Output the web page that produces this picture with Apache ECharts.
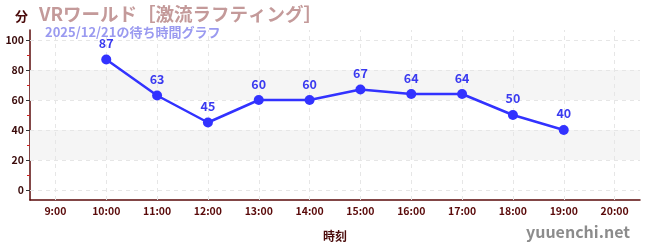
<!DOCTYPE html>
<html><head><meta charset="utf-8">
<script src="https://cdn.jsdelivr.net/npm/echarts@6/dist/echarts.min.js"></script>
<style>html,body{margin:0;padding:0;background:#fff}#c{width:650px;height:250px}</style>
</head><body><div id="c"></div>
<script>
const categories = ['9:00','10:00','11:00','12:00','13:00','14:00','15:00','16:00','17:00','18:00','19:00','20:00'];
const waitTimes = [null,87,63,45,60,60,67,64,64,50,40,null];
const yMajorTicks = [0,20,40,60,80,100];
const yMinorTicks = [10,30,50,70,90];
const grayBands = [[20,40],[60,80]];
const titleText = 'VRワールド［激流ラフティング］';
const subtitleText = '2025/12/21の待ち時間グラフ';

const axisColor = '#5a0a0a';
const font = '"Noto Sans CJK JP","Noto Sans",sans-serif';
const chart = echarts.init(document.getElementById('c'));
chart.setOption({
  animation:false,
  textStyle:{fontFamily:font},
  grid:{left:30,right:10,top:30,bottom:50},
  title:[
    {text:titleText,left:34,top:0,textStyle:{color:'#c49a9a',fontSize:18.5,fontWeight:'bold',fontFamily:font}},
    {text:subtitleText,left:40,top:21,textStyle:{color:'#9a9af0',fontSize:13,fontWeight:'bold',fontFamily:font}},
    {text:'分',left:10,top:5,textStyle:{color:'#4a0a0a',fontSize:13,fontWeight:'bold',fontFamily:font}},
    {text:'yuuenchi.net',right:15,bottom:5,textStyle:{color:'#8c8c8c',fontSize:16,fontWeight:'bold',fontFamily:font}}
  ],
  xAxis:{
    type:'category',data:categories,boundaryGap:true,
    name:'時刻',nameLocation:'middle',nameGap:30,
    nameTextStyle:{color:'#4a0a0a',fontSize:12,fontWeight:'bold'},
    axisLine:{onZero:false,lineStyle:{color:axisColor,width:1.5}},
    axisTick:{alignWithLabel:true,length:4,lineStyle:{color:'#888'}},
    axisLabel:{color:'#5a0a0a',fontSize:10.5,fontWeight:'bold',margin:6},
    splitLine:{show:false}
  },
  yAxis:[{
    type:'value',min:-6.67,max:106.67,
    axisLine:{show:true,lineStyle:{color:axisColor,width:1.5}},
    axisTick:{show:true,customValues:yMajorTicks,length:4,lineStyle:{color:'#333'}},
    axisLabel:{customValues:yMajorTicks,color:'#3a0a0a',fontSize:10.5,fontWeight:'bold',margin:6},
    splitLine:{show:false}
  },{
    type:'value',min:-6.67,max:106.67,position:'left',
    axisLine:{show:false},
    axisTick:{show:true,customValues:yMinorTicks,length:3,lineStyle:{color:'#d02020'}},
    axisLabel:{show:false},
    splitLine:{show:false}
  }],
  series:[{
    type:'line',data:[],z:1,silent:true,
    markArea:{silent:true,itemStyle:{color:'#f5f5f5'},data:grayBands.map(b=>[{yAxis:b[0]},{yAxis:b[1]}])},
    markLine:{silent:true,symbol:'none',label:{show:false},
      lineStyle:{color:'#e6e6e6',type:[4,4],width:1},
      data:yMajorTicks.map(v=>({yAxis:v})).concat(categories.map(c=>({xAxis:c})))}
  },{
    type:'line',data:waitTimes,connectNulls:false,z:5,
    symbol:'circle',symbolSize:10,
    lineStyle:{color:'#3232ff',width:2.5},
    itemStyle:{color:'#3232ff'},
    label:{show:true,position:'top',color:'#3a3af0',fontSize:12.5,fontWeight:'bold',distance:5}
  }]
});
</script></body></html>
